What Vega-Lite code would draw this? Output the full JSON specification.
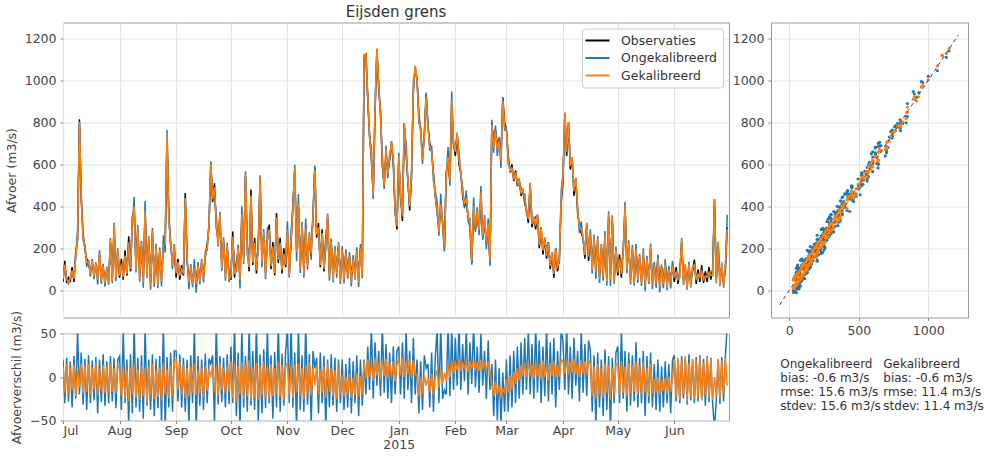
{
"$schema":"https://vega.github.io/schema/vega-lite/v6.json",
"background":"white",
"padding":{"left":4,"top":3.5,"right":4,"bottom":4},
"config":{
 "font":"DejaVu Sans",
 "view":{"stroke":"#999","strokeWidth":1},
 "axis":{"labelFont":"DejaVu Sans","labelFontSize":12.5,"labelColor":"#444","titleFont":"DejaVu Sans","titleFontSize":12.5,"titleFontWeight":"normal","titleColor":"#444","gridColor":"#e3e3e3","gridWidth":1,"domain":false,"tickColor":"#888","tickSize":3,"labelPadding":4,"titlePadding":6,"format":"d"},
 "title":{"font":"DejaVu Sans","fontSize":15,"fontWeight":"normal","color":"#333","offset":3},
 "legend":{"orient":"top-right","offset":6,"symbolType":"M-2,0H2","symbolSize":144,"symbolOffset":3.5,"symbolStrokeWidth":2,"labelFontSize":12.5,"labelColor":"#333","labelFont":"DejaVu Sans","fillColor":"rgba(255,255,255,0.85)","strokeColor":"#ccc","padding":5,"cornerRadius":3,"rowPadding":3.5,"labelOffset":16.5}
},
"datasets":{
"ts":[
{"t":"2014-07-01","o":40,"u":60,"g":52,"du":20,"dg":12},
{"t":"2014-07-02","o":140,"u":110,"g":122,"du":-30,"dg":-18},
{"t":"2014-07-03","o":35,"u":57,"g":50,"du":22,"dg":15},
{"t":"2014-07-04","o":60,"u":32,"g":40,"du":-28,"dg":-20},
{"t":"2014-07-05","o":45,"u":63,"g":55,"du":18,"dg":10},
{"t":"2014-07-06","o":110,"u":75,"g":95,"du":-35,"dg":-15},
{"t":"2014-07-07","o":40,"u":64,"g":54,"du":24,"dg":14},
{"t":"2014-07-08","o":185,"u":160,"g":163,"du":-25,"dg":-22},
{"t":"2014-07-09","o":240,"u":292,"g":248,"du":52,"dg":8},
{"t":"2014-07-10","o":815,"u":795,"g":803,"du":-20,"dg":-12},
{"t":"2014-07-11","o":430,"u":458,"g":446,"du":28,"dg":16},
{"t":"2014-07-12","o":270,"u":238,"g":251,"du":-32,"dg":-19},
{"t":"2014-07-13","o":195,"u":216,"g":208,"du":21,"dg":13},
{"t":"2014-07-14","o":150,"u":112,"g":133,"du":-38,"dg":-17},
{"t":"2014-07-15","o":120,"u":145,"g":135,"du":25,"dg":15},
{"t":"2014-07-16","o":95,"u":65,"g":75,"du":-30,"dg":-20},
{"t":"2014-07-17","o":130,"u":149,"g":141,"du":19,"dg":11},
{"t":"2014-07-18","o":80,"u":53,"g":66,"du":-27,"dg":-14},
{"t":"2014-07-19","o":110,"u":133,"g":127,"du":23,"dg":17},
{"t":"2014-07-20","o":70,"u":28,"g":49,"du":-42,"dg":-21},
{"t":"2014-07-21","o":170,"u":190,"g":179,"du":20,"dg":9},
{"t":"2014-07-22","o":60,"u":31,"g":44,"du":-29,"dg":-16},
{"t":"2014-07-23","o":100,"u":126,"g":114,"du":26,"dg":14},
{"t":"2014-07-24","o":50,"u":17,"g":32,"du":-33,"dg":-18},
{"t":"2014-07-25","o":95,"u":113,"g":107,"du":18,"dg":12},
{"t":"2014-07-26","o":55,"u":25,"g":35,"du":-30,"dg":-20},
{"t":"2014-07-27","o":225,"u":249,"g":240,"du":24,"dg":15},
{"t":"2014-07-28","o":60,"u":32,"g":43,"du":-28,"dg":-17},
{"t":"2014-07-29","o":300,"u":322,"g":310,"du":22,"dg":10},
{"t":"2014-07-30","o":80,"u":44,"g":61,"du":-36,"dg":-19},
{"t":"2014-07-31","o":180,"u":200,"g":193,"du":20,"dg":13},
{"t":"2014-08-01","o":60,"u":84,"g":70,"du":24,"dg":10},
{"t":"2014-08-02","o":150,"u":112,"g":128,"du":-38,"dg":-22},
{"t":"2014-08-03","o":50,"u":105,"g":62,"du":55,"dg":12},
{"t":"2014-08-04","o":190,"u":160,"g":165,"du":-30,"dg":-25},
{"t":"2014-08-05","o":70,"u":90,"g":78,"du":20,"dg":8},
{"t":"2014-08-06","o":257,"u":202,"g":229,"du":-55,"dg":-28},
{"t":"2014-08-07","o":90,"u":116,"g":101,"du":26,"dg":11},
{"t":"2014-08-08","o":350,"u":308,"g":330,"du":-42,"dg":-20},
{"t":"2014-08-09","o":385,"u":445,"g":399,"du":60,"dg":14},
{"t":"2014-08-10","o":120,"u":85,"g":96,"du":-35,"dg":-24},
{"t":"2014-08-11","o":290,"u":312,"g":299,"du":22,"dg":9},
{"t":"2014-08-12","o":80,"u":40,"g":54,"du":-40,"dg":-26},
{"t":"2014-08-13","o":210,"u":235,"g":223,"du":25,"dg":13},
{"t":"2014-08-14","o":60,"u":12,"g":38,"du":-48,"dg":-22},
{"t":"2014-08-15","o":368,"u":426,"g":378,"du":58,"dg":10},
{"t":"2014-08-16","o":90,"u":57,"g":60,"du":-33,"dg":-30},
{"t":"2014-08-17","o":240,"u":260,"g":252,"du":20,"dg":12},
{"t":"2014-08-18","o":40,"u":2,"g":19,"du":-38,"dg":-21},
{"t":"2014-08-19","o":270,"u":296,"g":285,"du":26,"dg":15},
{"t":"2014-08-20","o":60,"u":15,"g":35,"du":-45,"dg":-25},
{"t":"2014-08-21","o":200,"u":221,"g":208,"du":21,"dg":8},
{"t":"2014-08-22","o":45,"u":9,"g":22,"du":-36,"dg":-23},
{"t":"2014-08-23","o":180,"u":204,"g":191,"du":24,"dg":11},
{"t":"2014-08-24","o":70,"u":18,"g":43,"du":-52,"dg":-27},
{"t":"2014-08-25","o":200,"u":262,"g":216,"du":62,"dg":16},
{"t":"2014-08-26","o":240,"u":180,"g":220,"du":-60,"dg":-20},
{"t":"2014-08-27","o":740,"u":763,"g":749,"du":23,"dg":9},
{"t":"2014-08-28","o":360,"u":325,"g":336,"du":-35,"dg":-24},
{"t":"2014-08-29","o":210,"u":238,"g":223,"du":28,"dg":13},
{"t":"2014-08-30","o":140,"u":100,"g":118,"du":-40,"dg":-22},
{"t":"2014-08-31","o":190,"u":220,"g":208,"du":30,"dg":18},
{"t":"2014-09-01","o":60,"u":90,"g":80,"du":30,"dg":20},
{"t":"2014-09-02","o":150,"u":122,"g":135,"du":-28,"dg":-15},
{"t":"2014-09-03","o":50,"u":76,"g":68,"du":26,"dg":18},
{"t":"2014-09-04","o":120,"u":85,"g":100,"du":-35,"dg":-20},
{"t":"2014-09-05","o":70,"u":92,"g":84,"du":22,"dg":14},
{"t":"2014-09-06","o":463,"u":423,"g":439,"du":-40,"dg":-24},
{"t":"2014-09-07","o":140,"u":160,"g":150,"du":20,"dg":10},
{"t":"2014-09-08","o":60,"u":5,"g":38,"du":-55,"dg":-22},
{"t":"2014-09-09","o":100,"u":125,"g":112,"du":25,"dg":12},
{"t":"2014-09-10","o":45,"u":15,"g":27,"du":-30,"dg":-18},
{"t":"2014-09-11","o":90,"u":148,"g":105,"du":58,"dg":15},
{"t":"2014-09-12","o":50,"u":-12,"g":29,"du":-62,"dg":-21},
{"t":"2014-09-13","o":110,"u":134,"g":118,"du":24,"dg":8},
{"t":"2014-09-14","o":60,"u":27,"g":41,"du":-33,"dg":-19},
{"t":"2014-09-15","o":130,"u":150,"g":141,"du":20,"dg":11},
{"t":"2014-09-16","o":75,"u":37,"g":52,"du":-38,"dg":-23},
{"t":"2014-09-17","o":160,"u":187,"g":173,"du":27,"dg":13},
{"t":"2014-09-18","o":220,"u":190,"g":204,"du":-30,"dg":-16},
{"t":"2014-09-19","o":300,"u":321,"g":309,"du":21,"dg":9},
{"t":"2014-09-20","o":600,"u":615,"g":600,"du":15,"dg":0},
{"t":"2014-09-21","o":420,"u":445,"g":434,"du":25,"dg":14},
{"t":"2014-09-22","o":510,"u":455,"g":492,"du":-55,"dg":-18},
{"t":"2014-09-23","o":300,"u":360,"g":312,"du":60,"dg":12},
{"t":"2014-09-24","o":240,"u":208,"g":218,"du":-32,"dg":-22},
{"t":"2014-09-25","o":350,"u":374,"g":366,"du":24,"dg":16},
{"t":"2014-09-26","o":120,"u":91,"g":105,"du":-29,"dg":-15},
{"t":"2014-09-27","o":230,"u":252,"g":240,"du":22,"dg":10},
{"t":"2014-09-28","o":80,"u":45,"g":61,"du":-35,"dg":-19},
{"t":"2014-09-29","o":200,"u":226,"g":213,"du":26,"dg":13},
{"t":"2014-09-30","o":70,"u":39,"g":53,"du":-31,"dg":-17},
{"t":"2014-10-01","o":50,"u":85,"g":68,"du":35,"dg":18},
{"t":"2014-10-02","o":280,"u":250,"g":256,"du":-30,"dg":-24},
{"t":"2014-10-03","o":60,"u":120,"g":75,"du":60,"dg":15},
{"t":"2014-10-04","o":130,"u":85,"g":102,"du":-45,"dg":-28},
{"t":"2014-10-05","o":190,"u":218,"g":202,"du":28,"dg":12},
{"t":"2014-10-06","o":70,"u":8,"g":50,"du":-62,"dg":-20},
{"t":"2014-10-07","o":345,"u":400,"g":362,"du":55,"dg":17},
{"t":"2014-10-08","o":160,"u":125,"g":135,"du":-35,"dg":-25},
{"t":"2014-10-09","o":543,"u":567,"g":557,"du":24,"dg":14},
{"t":"2014-10-10","o":210,"u":170,"g":188,"du":-40,"dg":-22},
{"t":"2014-10-11","o":90,"u":148,"g":109,"du":58,"dg":19},
{"t":"2014-10-12","o":480,"u":447,"g":453,"du":-33,"dg":-27},
{"t":"2014-10-13","o":120,"u":150,"g":131,"du":30,"dg":11},
{"t":"2014-10-14","o":250,"u":212,"g":227,"du":-38,"dg":-23},
{"t":"2014-10-15","o":80,"u":142,"g":96,"du":62,"dg":16},
{"t":"2014-10-16","o":230,"u":175,"g":204,"du":-55,"dg":-26},
{"t":"2014-10-17","o":522,"u":548,"g":535,"du":26,"dg":13},
{"t":"2014-10-18","o":150,"u":108,"g":129,"du":-42,"dg":-21},
{"t":"2014-10-19","o":260,"u":292,"g":278,"du":32,"dg":18},
{"t":"2014-10-20","o":90,"u":54,"g":66,"du":-36,"dg":-24},
{"t":"2014-10-21","o":240,"u":295,"g":252,"du":55,"dg":12},
{"t":"2014-10-22","o":313,"u":283,"g":288,"du":-30,"dg":-25},
{"t":"2014-10-23","o":100,"u":125,"g":115,"du":25,"dg":15},
{"t":"2014-10-24","o":230,"u":182,"g":208,"du":-48,"dg":-22},
{"t":"2014-10-25","o":70,"u":99,"g":80,"du":29,"dg":10},
{"t":"2014-10-26","o":368,"u":333,"g":348,"du":-35,"dg":-20},
{"t":"2014-10-27","o":130,"u":190,"g":147,"du":60,"dg":17},
{"t":"2014-10-28","o":250,"u":210,"g":227,"du":-40,"dg":-23},
{"t":"2014-10-29","o":80,"u":107,"g":94,"du":27,"dg":14},
{"t":"2014-10-30","o":200,"u":167,"g":174,"du":-33,"dg":-26},
{"t":"2014-10-31","o":110,"u":140,"g":122,"du":30,"dg":12},
{"t":"2014-11-01","o":273,"u":328,"g":289,"du":55,"dg":16},
{"t":"2014-11-02","o":90,"u":60,"g":70,"du":-30,"dg":-20},
{"t":"2014-11-03","o":230,"u":290,"g":242,"du":60,"dg":12},
{"t":"2014-11-04","o":415,"u":380,"g":391,"du":-35,"dg":-24},
{"t":"2014-11-05","o":570,"u":598,"g":584,"du":28,"dg":14},
{"t":"2014-11-06","o":200,"u":138,"g":182,"du":-62,"dg":-18},
{"t":"2014-11-07","o":400,"u":458,"g":415,"du":58,"dg":15},
{"t":"2014-11-08","o":120,"u":82,"g":98,"du":-38,"dg":-22},
{"t":"2014-11-09","o":300,"u":325,"g":310,"du":25,"dg":10},
{"t":"2014-11-10","o":100,"u":60,"g":74,"du":-40,"dg":-26},
{"t":"2014-11-11","o":280,"u":342,"g":293,"du":62,"dg":13},
{"t":"2014-11-12","o":130,"u":98,"g":111,"du":-32,"dg":-19},
{"t":"2014-11-13","o":250,"u":276,"g":267,"du":26,"dg":17},
{"t":"2014-11-14","o":200,"u":145,"g":179,"du":-55,"dg":-21},
{"t":"2014-11-15","o":350,"u":380,"g":361,"du":30,"dg":11},
{"t":"2014-11-16","o":584,"u":594,"g":574,"du":10,"dg":-10},
{"t":"2014-11-17","o":250,"u":272,"g":264,"du":22,"dg":14},
{"t":"2014-11-18","o":320,"u":278,"g":300,"du":-42,"dg":-20},
{"t":"2014-11-19","o":110,"u":138,"g":119,"du":28,"dg":9},
{"t":"2014-11-20","o":290,"u":260,"g":272,"du":-30,"dg":-18},
{"t":"2014-11-21","o":90,"u":114,"g":102,"du":24,"dg":12},
{"t":"2014-11-22","o":250,"u":192,"g":226,"du":-58,"dg":-24},
{"t":"2014-11-23","o":345,"u":365,"g":360,"du":20,"dg":15},
{"t":"2014-11-24","o":80,"u":45,"g":63,"du":-35,"dg":-17},
{"t":"2014-11-25","o":220,"u":246,"g":230,"du":26,"dg":10},
{"t":"2014-11-26","o":70,"u":37,"g":48,"du":-33,"dg":-22},
{"t":"2014-11-27","o":190,"u":212,"g":198,"du":22,"dg":8},
{"t":"2014-11-28","o":100,"u":60,"g":75,"du":-40,"dg":-25},
{"t":"2014-11-29","o":210,"u":230,"g":222,"du":20,"dg":12},
{"t":"2014-11-30","o":60,"u":30,"g":40,"du":-30,"dg":-20},
{"t":"2014-12-01","o":190,"u":210,"g":192,"du":20,"dg":2},
{"t":"2014-12-02","o":70,"u":32,"g":48,"du":-38,"dg":-22},
{"t":"2014-12-03","o":180,"u":195,"g":180,"du":15,"dg":0},
{"t":"2014-12-04","o":90,"u":55,"g":70,"du":-35,"dg":-20},
{"t":"2014-12-05","o":160,"u":182,"g":163,"du":22,"dg":3},
{"t":"2014-12-06","o":60,"u":18,"g":36,"du":-42,"dg":-24},
{"t":"2014-12-07","o":150,"u":168,"g":149,"du":18,"dg":-1},
{"t":"2014-12-08","o":80,"u":50,"g":59,"du":-30,"dg":-21},
{"t":"2014-12-09","o":180,"u":205,"g":184,"du":25,"dg":4},
{"t":"2014-12-10","o":60,"u":15,"g":37,"du":-45,"dg":-23},
{"t":"2014-12-11","o":200,"u":220,"g":201,"du":20,"dg":1},
{"t":"2014-12-12","o":90,"u":57,"g":70,"du":-33,"dg":-20},
{"t":"2014-12-13","o":1100,"u":1120,"g":1118,"du":20,"dg":18},
{"t":"2014-12-14","o":1130,"u":1110,"g":1128,"du":-20,"dg":-2},
{"t":"2014-12-15","o":900,"u":935,"g":920,"du":35,"dg":20},
{"t":"2014-12-16","o":740,"u":725,"g":740,"du":-15,"dg":0},
{"t":"2014-12-17","o":620,"u":678,"g":635,"du":58,"dg":15},
{"t":"2014-12-18","o":460,"u":435,"g":456,"du":-25,"dg":-4},
{"t":"2014-12-19","o":850,"u":890,"g":872,"du":40,"dg":22},
{"t":"2014-12-20","o":1150,"u":1140,"g":1152,"du":-10,"dg":2},
{"t":"2014-12-21","o":960,"u":990,"g":977,"du":30,"dg":17},
{"t":"2014-12-22","o":850,"u":828,"g":847,"du":-22,"dg":-3},
{"t":"2014-12-23","o":590,"u":650,"g":609,"du":60,"dg":19},
{"t":"2014-12-24","o":500,"u":482,"g":501,"du":-18,"dg":1},
{"t":"2014-12-25","o":650,"u":688,"g":671,"du":38,"dg":21},
{"t":"2014-12-26","o":560,"u":535,"g":558,"du":-25,"dg":-2},
{"t":"2014-12-27","o":620,"u":648,"g":636,"du":28,"dg":16},
{"t":"2014-12-28","o":710,"u":680,"g":710,"du":-30,"dg":0},
{"t":"2014-12-29","o":600,"u":635,"g":618,"du":35,"dg":18},
{"t":"2014-12-30","o":380,"u":360,"g":375,"du":-20,"dg":-5},
{"t":"2014-12-31","o":290,"u":320,"g":305,"du":30,"dg":15},
{"t":"2015-01-01","o":620,"u":655,"g":640,"du":35,"dg":20},
{"t":"2015-01-02","o":450,"u":430,"g":452,"du":-20,"dg":2},
{"t":"2015-01-03","o":330,"u":370,"g":352,"du":40,"dg":22},
{"t":"2015-01-04","o":797,"u":772,"g":797,"du":-25,"dg":0},
{"t":"2015-01-05","o":650,"u":705,"g":668,"du":55,"dg":18},
{"t":"2015-01-06","o":520,"u":505,"g":524,"du":-15,"dg":4},
{"t":"2015-01-07","o":380,"u":410,"g":401,"du":30,"dg":21},
{"t":"2015-01-08","o":560,"u":530,"g":558,"du":-30,"dg":-2},
{"t":"2015-01-09","o":950,"u":995,"g":969,"du":45,"dg":19},
{"t":"2015-01-10","o":1066,"u":1046,"g":1069,"du":-20,"dg":3},
{"t":"2015-01-11","o":1000,"u":1020,"g":1003,"du":20,"dg":3},
{"t":"2015-01-12","o":840,"u":798,"g":818,"du":-42,"dg":-22},
{"t":"2015-01-13","o":760,"u":778,"g":760,"du":18,"dg":0},
{"t":"2015-01-14","o":640,"u":602,"g":620,"du":-38,"dg":-20},
{"t":"2015-01-15","o":730,"u":755,"g":732,"du":25,"dg":2},
{"t":"2015-01-16","o":932,"u":942,"g":922,"du":10,"dg":-10},
{"t":"2015-01-17","o":780,"u":795,"g":779,"du":15,"dg":-1},
{"t":"2015-01-18","o":700,"u":665,"g":682,"du":-35,"dg":-18},
{"t":"2015-01-19","o":660,"u":688,"g":664,"du":28,"dg":4},
{"t":"2015-01-20","o":560,"u":520,"g":539,"du":-40,"dg":-21},
{"t":"2015-01-21","o":450,"u":472,"g":450,"du":22,"dg":0},
{"t":"2015-01-22","o":370,"u":425,"g":378,"du":55,"dg":8},
{"t":"2015-01-23","o":290,"u":260,"g":278,"du":-30,"dg":-12},
{"t":"2015-01-24","o":400,"u":460,"g":410,"du":60,"dg":10},
{"t":"2015-01-25","o":330,"u":305,"g":322,"du":-25,"dg":-8},
{"t":"2015-01-26","o":200,"u":185,"g":205,"du":-15,"dg":5},
{"t":"2015-01-27","o":560,"u":540,"g":556,"du":-20,"dg":-4},
{"t":"2015-01-28","o":620,"u":682,"g":636,"du":62,"dg":16},
{"t":"2015-01-29","o":520,"u":498,"g":520,"du":-22,"dg":0},
{"t":"2015-01-30","o":892,"u":947,"g":910,"du":55,"dg":18},
{"t":"2015-01-31","o":700,"u":685,"g":704,"du":-15,"dg":4},
{"t":"2015-02-01","o":640,"u":685,"g":658,"du":45,"dg":18},
{"t":"2015-02-02","o":745,"u":735,"g":753,"du":-10,"dg":8},
{"t":"2015-02-03","o":600,"u":660,"g":620,"du":60,"dg":20},
{"t":"2015-02-04","o":560,"u":545,"g":567,"du":-15,"dg":7},
{"t":"2015-02-05","o":450,"u":488,"g":467,"du":38,"dg":17},
{"t":"2015-02-06","o":400,"u":395,"g":409,"du":-5,"dg":9},
{"t":"2015-02-07","o":420,"u":475,"g":439,"du":55,"dg":19},
{"t":"2015-02-08","o":350,"u":330,"g":356,"du":-20,"dg":6},
{"t":"2015-02-09","o":300,"u":340,"g":318,"du":40,"dg":18},
{"t":"2015-02-10","o":130,"u":122,"g":140,"du":-8,"dg":10},
{"t":"2015-02-11","o":380,"u":442,"g":400,"du":62,"dg":20},
{"t":"2015-02-12","o":290,"u":278,"g":298,"du":-12,"dg":8},
{"t":"2015-02-13","o":360,"u":395,"g":377,"du":35,"dg":17},
{"t":"2015-02-14","o":280,"u":262,"g":287,"du":-18,"dg":7},
{"t":"2015-02-15","o":447,"u":497,"g":466,"du":50,"dg":19},
{"t":"2015-02-16","o":250,"u":240,"g":259,"du":-10,"dg":9},
{"t":"2015-02-17","o":330,"u":360,"g":346,"du":30,"dg":16},
{"t":"2015-02-18","o":220,"u":195,"g":228,"du":-25,"dg":8},
{"t":"2015-02-19","o":300,"u":342,"g":318,"du":42,"dg":18},
{"t":"2015-02-20","o":130,"u":115,"g":136,"du":-15,"dg":6},
{"t":"2015-02-21","o":797,"u":812,"g":789,"du":15,"dg":-8},
{"t":"2015-02-22","o":700,"u":655,"g":678,"du":-45,"dg":-22},
{"t":"2015-02-23","o":765,"u":785,"g":760,"du":20,"dg":-5},
{"t":"2015-02-24","o":690,"u":640,"g":670,"du":-50,"dg":-20},
{"t":"2015-02-25","o":720,"u":730,"g":710,"du":10,"dg":-10},
{"t":"2015-02-26","o":638,"u":583,"g":614,"du":-55,"dg":-24},
{"t":"2015-02-27","o":916,"u":921,"g":902,"du":5,"dg":-14},
{"t":"2015-02-28","o":800,"u":760,"g":782,"du":-40,"dg":-18},
{"t":"2015-03-01","o":760,"u":780,"g":758,"du":20,"dg":-2},
{"t":"2015-03-02","o":640,"u":600,"g":622,"du":-40,"dg":-18},
{"t":"2015-03-03","o":560,"u":585,"g":562,"du":25,"dg":2},
{"t":"2015-03-04","o":600,"u":565,"g":586,"du":-35,"dg":-14},
{"t":"2015-03-05","o":520,"u":550,"g":526,"du":30,"dg":6},
{"t":"2015-03-06","o":570,"u":540,"g":562,"du":-30,"dg":-8},
{"t":"2015-03-07","o":495,"u":530,"g":505,"du":35,"dg":10},
{"t":"2015-03-08","o":530,"u":505,"g":526,"du":-25,"dg":-4},
{"t":"2015-03-09","o":450,"u":490,"g":464,"du":40,"dg":14},
{"t":"2015-03-10","o":480,"u":460,"g":482,"du":-20,"dg":2},
{"t":"2015-03-11","o":415,"u":460,"g":431,"du":45,"dg":16},
{"t":"2015-03-12","o":380,"u":365,"g":380,"du":-15,"dg":0},
{"t":"2015-03-13","o":320,"u":375,"g":338,"du":55,"dg":18},
{"t":"2015-03-14","o":511,"u":491,"g":513,"du":-20,"dg":2},
{"t":"2015-03-15","o":300,"u":338,"g":314,"du":38,"dg":14},
{"t":"2015-03-16","o":350,"u":325,"g":348,"du":-25,"dg":-2},
{"t":"2015-03-17","o":290,"u":350,"g":307,"du":60,"dg":17},
{"t":"2015-03-18","o":360,"u":342,"g":361,"du":-18,"dg":1},
{"t":"2015-03-19","o":200,"u":242,"g":215,"du":42,"dg":15},
{"t":"2015-03-20","o":300,"u":270,"g":297,"du":-30,"dg":-3},
{"t":"2015-03-21","o":170,"u":205,"g":189,"du":35,"dg":19},
{"t":"2015-03-22","o":250,"u":228,"g":250,"du":-22,"dg":0},
{"t":"2015-03-23","o":150,"u":208,"g":163,"du":58,"dg":13},
{"t":"2015-03-24","o":230,"u":202,"g":226,"du":-28,"dg":-4},
{"t":"2015-03-25","o":100,"u":140,"g":116,"du":40,"dg":16},
{"t":"2015-03-26","o":180,"u":160,"g":182,"du":-20,"dg":2},
{"t":"2015-03-27","o":60,"u":105,"g":78,"du":45,"dg":18},
{"t":"2015-03-28","o":200,"u":165,"g":199,"du":-35,"dg":-1},
{"t":"2015-03-29","o":90,"u":120,"g":104,"du":30,"dg":14},
{"t":"2015-03-30","o":150,"u":135,"g":150,"du":-15,"dg":0},
{"t":"2015-03-31","o":416,"u":471,"g":436,"du":55,"dg":20},
{"t":"2015-04-01","o":520,"u":560,"g":538,"du":40,"dg":18},
{"t":"2015-04-02","o":844,"u":829,"g":848,"du":-15,"dg":4},
{"t":"2015-04-03","o":640,"u":700,"g":660,"du":60,"dg":20},
{"t":"2015-04-04","o":800,"u":780,"g":802,"du":-20,"dg":2},
{"t":"2015-04-05","o":575,"u":610,"g":592,"du":35,"dg":17},
{"t":"2015-04-06","o":630,"u":605,"g":635,"du":-25,"dg":5},
{"t":"2015-04-07","o":450,"u":495,"g":471,"du":45,"dg":21},
{"t":"2015-04-08","o":535,"u":525,"g":538,"du":-10,"dg":3},
{"t":"2015-04-09","o":370,"u":400,"g":386,"du":30,"dg":16},
{"t":"2015-04-10","o":300,"u":272,"g":300,"du":-28,"dg":0},
{"t":"2015-04-11","o":273,"u":328,"g":292,"du":55,"dg":19},
{"t":"2015-04-12","o":250,"u":232,"g":254,"du":-18,"dg":4},
{"t":"2015-04-13","o":150,"u":188,"g":168,"du":38,"dg":18},
{"t":"2015-04-14","o":320,"u":298,"g":322,"du":-22,"dg":2},
{"t":"2015-04-15","o":140,"u":182,"g":160,"du":42,"dg":20},
{"t":"2015-04-16","o":260,"u":290,"g":274,"du":30,"dg":14},
{"t":"2015-04-17","o":120,"u":80,"g":98,"du":-40,"dg":-22},
{"t":"2015-04-18","o":240,"u":265,"g":252,"du":25,"dg":12},
{"t":"2015-04-19","o":110,"u":55,"g":85,"du":-55,"dg":-25},
{"t":"2015-04-20","o":230,"u":258,"g":245,"du":28,"dg":15},
{"t":"2015-04-21","o":70,"u":35,"g":50,"du":-35,"dg":-20},
{"t":"2015-04-22","o":200,"u":220,"g":210,"du":20,"dg":10},
{"t":"2015-04-23","o":90,"u":45,"g":66,"du":-45,"dg":-24},
{"t":"2015-04-24","o":250,"u":282,"g":266,"du":32,"dg":16},
{"t":"2015-04-25","o":60,"u":22,"g":42,"du":-38,"dg":-18},
{"t":"2015-04-26","o":352,"u":376,"g":365,"du":24,"dg":13},
{"t":"2015-04-27","o":80,"u":20,"g":54,"du":-60,"dg":-26},
{"t":"2015-04-28","o":335,"u":357,"g":346,"du":22,"dg":11},
{"t":"2015-04-29","o":60,"u":30,"g":39,"du":-30,"dg":-21},
{"t":"2015-04-30","o":180,"u":208,"g":195,"du":28,"dg":15},
{"t":"2015-05-01","o":70,"u":105,"g":85,"du":35,"dg":15},
{"t":"2015-05-02","o":170,"u":140,"g":150,"du":-30,"dg":-20},
{"t":"2015-05-03","o":60,"u":115,"g":78,"du":55,"dg":18},
{"t":"2015-05-04","o":200,"u":175,"g":182,"du":-25,"dg":-18},
{"t":"2015-05-05","o":392,"u":422,"g":404,"du":30,"dg":12},
{"t":"2015-05-06","o":120,"u":80,"g":98,"du":-40,"dg":-22},
{"t":"2015-05-07","o":210,"u":238,"g":226,"du":28,"dg":16},
{"t":"2015-05-08","o":60,"u":27,"g":41,"du":-33,"dg":-19},
{"t":"2015-05-09","o":190,"u":215,"g":204,"du":25,"dg":14},
{"t":"2015-05-10","o":50,"u":22,"g":33,"du":-28,"dg":-17},
{"t":"2015-05-11","o":180,"u":220,"g":198,"du":40,"dg":18},
{"t":"2015-05-12","o":70,"u":35,"g":49,"du":-35,"dg":-21},
{"t":"2015-05-13","o":150,"u":172,"g":163,"du":22,"dg":13},
{"t":"2015-05-14","o":50,"u":20,"g":30,"du":-30,"dg":-20},
{"t":"2015-05-15","o":170,"u":200,"g":187,"du":30,"dg":17},
{"t":"2015-05-16","o":40,"u":-5,"g":22,"du":-45,"dg":-18},
{"t":"2015-05-17","o":140,"u":164,"g":151,"du":24,"dg":11},
{"t":"2015-05-18","o":60,"u":30,"g":38,"du":-30,"dg":-22},
{"t":"2015-05-19","o":194,"u":222,"g":209,"du":28,"dg":15},
{"t":"2015-05-20","o":40,"u":5,"g":21,"du":-35,"dg":-19},
{"t":"2015-05-21","o":120,"u":135,"g":118,"du":15,"dg":-2},
{"t":"2015-05-22","o":50,"u":12,"g":32,"du":-38,"dg":-18},
{"t":"2015-05-23","o":150,"u":170,"g":150,"du":20,"dg":0},
{"t":"2015-05-24","o":30,"u":-10,"g":10,"du":-40,"dg":-20},
{"t":"2015-05-25","o":110,"u":122,"g":107,"du":12,"dg":-3},
{"t":"2015-05-26","o":45,"u":10,"g":29,"du":-35,"dg":-16},
{"t":"2015-05-27","o":130,"u":148,"g":129,"du":18,"dg":-1},
{"t":"2015-05-28","o":30,"u":0,"g":11,"du":-30,"dg":-19},
{"t":"2015-05-29","o":100,"u":115,"g":100,"du":15,"dg":0},
{"t":"2015-05-30","o":50,"u":8,"g":33,"du":-42,"dg":-17},
{"t":"2015-05-31","o":120,"u":140,"g":118,"du":20,"dg":-2},
{"t":"2015-06-01","o":40,"u":65,"g":60,"du":25,"dg":20},
{"t":"2015-06-02","o":110,"u":82,"g":86,"du":-28,"dg":-24},
{"t":"2015-06-03","o":30,"u":50,"g":52,"du":20,"dg":22},
{"t":"2015-06-04","o":90,"u":60,"g":64,"du":-30,"dg":-26},
{"t":"2015-06-05","o":225,"u":249,"g":243,"du":24,"dg":18},
{"t":"2015-06-06","o":50,"u":25,"g":30,"du":-25,"dg":-20},
{"t":"2015-06-07","o":100,"u":122,"g":124,"du":22,"dg":24},
{"t":"2015-06-08","o":35,"u":3,"g":7,"du":-32,"dg":-28},
{"t":"2015-06-09","o":110,"u":136,"g":126,"du":26,"dg":16},
{"t":"2015-06-10","o":40,"u":13,"g":18,"du":-27,"dg":-22},
{"t":"2015-06-11","o":90,"u":110,"g":111,"du":20,"dg":21},
{"t":"2015-06-12","o":146,"u":116,"g":121,"du":-30,"dg":-25},
{"t":"2015-06-13","o":30,"u":53,"g":49,"du":23,"dg":19},
{"t":"2015-06-14","o":100,"u":72,"g":77,"du":-28,"dg":-23},
{"t":"2015-06-15","o":40,"u":65,"g":62,"du":25,"dg":22},
{"t":"2015-06-16","o":120,"u":94,"g":93,"du":-26,"dg":-27},
{"t":"2015-06-17","o":35,"u":56,"g":52,"du":21,"dg":17},
{"t":"2015-06-18","o":90,"u":57,"g":69,"du":-33,"dg":-21},
{"t":"2015-06-19","o":40,"u":64,"g":63,"du":24,"dg":23},
{"t":"2015-06-20","o":110,"u":81,"g":86,"du":-29,"dg":-24},
{"t":"2015-06-21","o":50,"u":72,"g":70,"du":22,"dg":20},
{"t":"2015-06-22","o":100,"u":70,"g":74,"du":-30,"dg":-26},
{"t":"2015-06-23","o":435,"u":375,"g":435,"du":-60,"dg":0},
{"t":"2015-06-24","o":60,"u":33,"g":38,"du":-27,"dg":-22},
{"t":"2015-06-25","o":210,"u":230,"g":231,"du":20,"dg":21},
{"t":"2015-06-26","o":50,"u":19,"g":25,"du":-31,"dg":-25},
{"t":"2015-06-27","o":110,"u":133,"g":129,"du":23,"dg":19},
{"t":"2015-06-28","o":40,"u":12,"g":20,"du":-28,"dg":-20},
{"t":"2015-06-29","o":100,"u":124,"g":122,"du":24,"dg":22},
{"t":"2015-06-30","o":300,"u":360,"g":290,"du":60,"dg":-10}
],
"diag":[{"x":-70,"y":-70},{"x":1217,"y":1217}],
"stats":[
{"c":0,"r":0,"s":"Ongekalibreerd"},
{"c":0,"r":1,"s":"bias: -0.6 m3/s"},
{"c":0,"r":2,"s":"rmse: 15.6 m3/s"},
{"c":0,"r":3,"s":"stdev: 15.6 m3/s"},
{"c":1,"r":0,"s":"Gekalibreerd"},
{"c":1,"r":1,"s":"bias: -0.6 m3/s"},
{"c":1,"r":2,"s":"rmse: 11.4 m3/s"},
{"c":1,"r":3,"s":"stdev: 11.4 m3/s"}
]
},
"spacing":1,
"resolve":{"scale":{"color":"independent"},"legend":{"color":"independent"}},
"hconcat":[
{"spacing":16,"bounds":"flush",
 "resolve":{"scale":{"color":"independent"},"legend":{"color":"independent"}},
 "vconcat":[
 {
  "title":{"text":"Eijsden grens"},
  "width":666,"height":295,
  "data":{"name":"ts"},
  "encoding":{"x":{"field":"t","type":"temporal","title":null,
     "scale":{"type":"utc","domain":[{"year":2014,"month":7,"date":1,"utc":true},{"year":2015,"month":6,"date":30,"hours":23,"utc":true}]},
     "axis":{"labels":false,"ticks":false,"grid":true,"values":[
       {"year":2014,"month":7,"date":1,"utc":true},{"year":2014,"month":8,"date":1,"utc":true},{"year":2014,"month":9,"date":1,"utc":true},{"year":2014,"month":10,"date":1,"utc":true},{"year":2014,"month":11,"date":1,"utc":true},{"year":2014,"month":12,"date":1,"utc":true},{"year":2015,"month":1,"date":1,"utc":true},{"year":2015,"month":2,"date":1,"utc":true},{"year":2015,"month":3,"date":1,"utc":true},{"year":2015,"month":4,"date":1,"utc":true},{"year":2015,"month":5,"date":1,"utc":true},{"year":2015,"month":6,"date":1,"utc":true}]}}},
  "layer":[
   {"mark":{"type":"line","strokeWidth":1.5,"clip":true},
    "encoding":{"y":{"field":"o","type":"quantitative","title":"Afvoer (m3/s)","scale":{"domain":[-130,1276],"nice":false,"zero":false},"axis":{"values":[0,200,400,600,800,1000,1200],"format":"d"}},
     "color":{"datum":"Observaties","type":"nominal","scale":{"domain":["Observaties","Ongekalibreerd","Gekalibreerd"],"range":["#000000","#1f77b4","#ff7f0e"]},"legend":{"title":null}}}},
   {"mark":{"type":"line","strokeWidth":1.5,"clip":true},
    "encoding":{"y":{"field":"u","type":"quantitative","title":"Afvoer (m3/s)"},"color":{"datum":"Ongekalibreerd","type":"nominal"}}},
   {"mark":{"type":"line","strokeWidth":1.5,"clip":true},
    "encoding":{"y":{"field":"g","type":"quantitative","title":"Afvoer (m3/s)"},"color":{"datum":"Gekalibreerd","type":"nominal"}}}
  ]
 },
 {
  "width":666,"height":87,
  "data":{"name":"ts"},
  "encoding":{"x":{"field":"t","type":"temporal","title":null,
     "scale":{"type":"utc","domain":[{"year":2014,"month":7,"date":1,"utc":true},{"year":2015,"month":6,"date":30,"hours":23,"utc":true}]},
     "axis":{"grid":true,"labelPadding":1,"labelLineHeight":14,"format":"%b","labelExpr":"utcFormat(datum.value, '%b') == 'Jan' ? ['Jan', '2015'] : utcFormat(datum.value, '%b')","values":[
       {"year":2014,"month":7,"date":1,"utc":true},{"year":2014,"month":8,"date":1,"utc":true},{"year":2014,"month":9,"date":1,"utc":true},{"year":2014,"month":10,"date":1,"utc":true},{"year":2014,"month":11,"date":1,"utc":true},{"year":2014,"month":12,"date":1,"utc":true},{"year":2015,"month":1,"date":1,"utc":true},{"year":2015,"month":2,"date":1,"utc":true},{"year":2015,"month":3,"date":1,"utc":true},{"year":2015,"month":4,"date":1,"utc":true},{"year":2015,"month":5,"date":1,"utc":true},{"year":2015,"month":6,"date":1,"utc":true}]}}},
  "layer":[
   {"mark":{"type":"line","color":"#1f77b4","strokeWidth":1.5,"clip":true},
    "encoding":{"y":{"field":"du","type":"quantitative","title":"Afvoerverschil (m3/s)","scale":{"domain":[-50,50],"nice":false},"axis":{"values":[-50,0,50],"format":"d"}}}},
   {"mark":{"type":"line","color":"#ff7f0e","strokeWidth":1.5,"clip":true},
    "encoding":{"y":{"field":"dg","type":"quantitative","title":"Afvoerverschil (m3/s)"}}}
  ]
 }
]},
{"spacing":16,"bounds":"flush","vconcat":[
 {
  "width":197,"height":295,
  "layer":[
   {"data":{"name":"ts"},"mark":{"type":"circle","size":10,"color":"#1f77b4","opacity":1},
    "encoding":{"x":{"field":"o","type":"quantitative","title":null,"scale":{"domain":[-132,1286],"nice":false,"zero":false},"axis":{"values":[0,500,1000],"format":"d"}},
     "y":{"field":"u","type":"quantitative","title":null,"scale":{"domain":[-130,1276],"nice":false,"zero":false},"axis":{"values":[0,200,400,600,800,1000,1200],"format":"d"}}}},
   {"data":{"name":"ts"},"mark":{"type":"circle","size":10,"color":"#ff7f0e","opacity":1},
    "encoding":{"x":{"field":"o","type":"quantitative","title":null},"y":{"field":"g","type":"quantitative","title":null}}},
   {"data":{"name":"diag"},"mark":{"type":"line","color":"#444","strokeWidth":1,"strokeDash":[4,3]},
    "encoding":{"x":{"field":"x","type":"quantitative","title":null},"y":{"field":"y","type":"quantitative","title":null}}}
  ]
 },
 {
  "width":197,"height":87,
  "data":{"name":"stats"},
  "view":{"stroke":null},
  "mark":{"type":"text","align":"left","baseline":"middle","fontSize":12,"color":"#333","font":"DejaVu Sans"},
  "encoding":{
   "x":{"field":"c","type":"quantitative","scale":{"domain":[-0.09,1.822],"nice":false,"zero":false},"axis":null},
   "y":{"field":"r","type":"quantitative","scale":{"domain":[-2.214,4],"nice":false,"zero":false,"reverse":true},"axis":null},
   "text":{"field":"s"}
  }
 }
]}
]
}
